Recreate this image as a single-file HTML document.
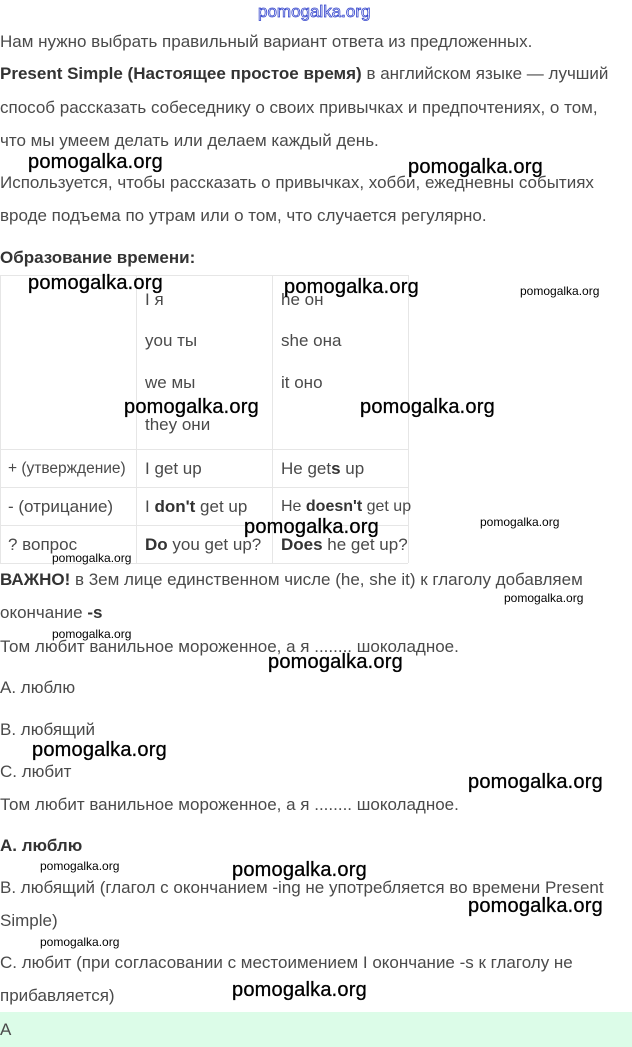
<!DOCTYPE html>
<html><head><meta charset="utf-8"><style>
body{margin:0;width:632px;height:1047px;background:#fff;position:relative;overflow:hidden;font-family:"Liberation Sans",sans-serif;}
.t{position:absolute;left:0;font-size:17px;color:#4a4a4a;white-space:nowrap;line-height:18px;}
.t b{color:#333;}
.w{position:absolute;font-size:20px;color:#000;white-space:nowrap;line-height:22px;font-family:"Liberation Sans Narrow","Liberation Sans",sans-serif;letter-spacing:0.2px;-webkit-text-stroke:0.3px #000;}
.s{position:absolute;font-size:12px;color:#000;white-space:nowrap;line-height:14px;font-family:"Liberation Sans Narrow","Liberation Sans",sans-serif;}
.hl{position:absolute;left:0;width:408px;height:1px;background:#e6e6e6;}
.vl{position:absolute;top:275px;height:288px;width:1px;background:#e6e6e6;}
</style></head><body>
<div style="position:absolute;left:258px;top:2px;font-size:17px;color:#fff;-webkit-text-stroke:0.8px #3344cc;white-space:nowrap;">pomogalka.org</div>
<div class="t" style="top:33px">Нам нужно выбрать правильный вариант ответа из предложенных.</div>
<div class="t" style="top:65px"><b>Present Simple (Настоящее простое время)</b> в английском языке — лучший</div>
<div class="t" style="top:99px">способ рассказать собеседнику о своих привычках и предпочтениях, о том,</div>
<div class="t" style="top:132px">что мы умеем делать или делаем каждый день.</div>
<div class="t" style="top:174px">Используется, чтобы рассказать о привычках, хобби, ежедневны событиях</div>
<div class="t" style="top:207px">вроде подъема по утрам или о том, что случается регулярно.</div>
<div class="t" style="top:249px"><b>Образование времени:</b></div>

<div class="hl" style="top:275px"></div><div class="hl" style="top:449px"></div><div class="hl" style="top:487px"></div><div class="hl" style="top:525px"></div><div class="hl" style="top:563px"></div>
<div class="vl" style="left:0"></div><div class="vl" style="left:136px"></div><div class="vl" style="left:272px"></div><div class="vl" style="left:408px"></div>
<div class="t" style="left:145px;top:291px">I я</div>
<div class="t" style="left:145px;top:332px">you ты</div>
<div class="t" style="left:145px;top:374px">we мы</div>
<div class="t" style="left:145px;top:416px">they они</div>
<div class="t" style="left:281px;top:291px">he он</div>
<div class="t" style="left:281px;top:332px">she она</div>
<div class="t" style="left:281px;top:374px">it оно</div>
<div class="t" style="left:8px;top:460px;font-size:15.5px">+ (утверждение)</div>
<div class="t" style="left:145px;top:460px">I get up</div>
<div class="t" style="left:281px;top:460px">He get<b>s</b> up</div>
<div class="t" style="left:8px;top:498px">- (отрицание)</div>
<div class="t" style="left:145px;top:498px">I <b>don't</b> get up</div>
<div class="t" style="left:281px;top:498px;font-size:16px">He <b>doesn't</b> get up</div>
<div class="t" style="left:8px;top:536px">? вопрос</div>
<div class="t" style="left:145px;top:536px"><b>Do</b> you get up?</div>
<div class="t" style="left:281px;top:536px"><b>Does</b> he get up?</div>

<div class="t" style="top:571px"><b>ВАЖНО!</b> в 3ем лице единственном числе (he, she it) к глаголу добавляем</div>
<div class="t" style="top:604px">окончание <b>-s</b></div>
<div class="t" style="top:638px">Том любит ванильное мороженное, а я ........ шоколадное.</div>
<div class="t" style="top:679px">A. люблю</div>
<div class="t" style="top:721px">B. любящий</div>
<div class="t" style="top:763px">C. любит</div>
<div class="t" style="top:796px">Том любит ванильное мороженное, а я ........ шоколадное.</div>
<div class="t" style="top:837px"><b>A. люблю</b></div>
<div class="t" style="top:879px">B. любящий (глагол с окончанием -ing не употребляется во времени Present</div>
<div class="t" style="top:912px">Simple)</div>
<div class="t" style="top:954px">C. любит (при согласовании с местоимением I окончание -s к глаголу не</div>
<div class="t" style="top:987px">прибавляется)</div>
<div style="position:absolute;left:0;top:1012px;width:632px;height:35px;background:#dcfce8;"></div>
<div class="t" style="top:1021px">A</div>

<div class="w" style="left:28px;top:151px">pomogalka.org</div>
<div class="w" style="left:408px;top:156px">pomogalka.org</div>
<div class="w" style="left:28px;top:272px">pomogalka.org</div>
<div class="w" style="left:284px;top:276px">pomogalka.org</div>
<div class="s" style="left:520px;top:284px">pomogalka.org</div>
<div class="w" style="left:124px;top:396px">pomogalka.org</div>
<div class="w" style="left:360px;top:396px">pomogalka.org</div>
<div class="w" style="left:244px;top:516px">pomogalka.org</div>
<div class="s" style="left:480px;top:515px">pomogalka.org</div>
<div class="s" style="left:52px;top:551px">pomogalka.org</div>
<div class="s" style="left:504px;top:591px">pomogalka.org</div>
<div class="s" style="left:52px;top:627px">pomogalka.org</div>
<div class="w" style="left:268px;top:651px">pomogalka.org</div>
<div class="w" style="left:32px;top:739px">pomogalka.org</div>
<div class="w" style="left:468px;top:771px">pomogalka.org</div>
<div class="s" style="left:40px;top:859px">pomogalka.org</div>
<div class="w" style="left:232px;top:859px">pomogalka.org</div>
<div class="w" style="left:468px;top:895px">pomogalka.org</div>
<div class="s" style="left:40px;top:935px">pomogalka.org</div>
<div class="w" style="left:232px;top:979px">pomogalka.org</div>
</body></html>
